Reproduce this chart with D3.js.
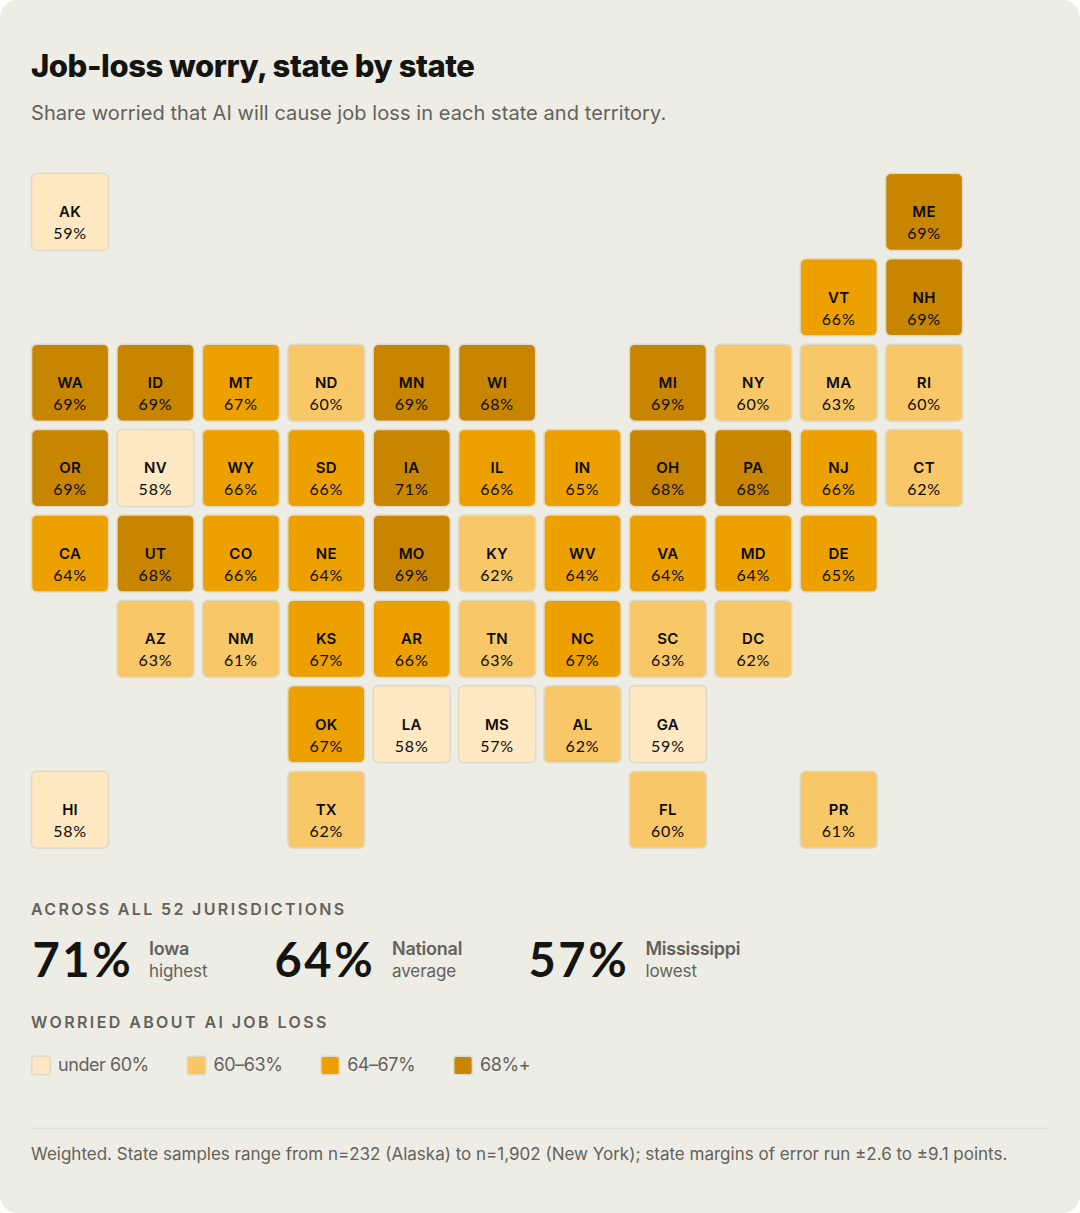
<!DOCTYPE html>
<html><head><meta charset="utf-8">
<script src="https://cdn.jsdelivr.net/npm/d3@7/dist/d3.min.js"></script>
<style>
html,body{margin:0;padding:0;background:#fff;}
svg{display:block;}
text{font-family:Inter,"Noto Sans",sans-serif;}
.num{font-family:Lato,Inter,sans-serif;}
</style></head><body><div id="chart"></div>
<script>
const titleText = "Job-loss worry, state by state";
const subtitleText = "Share worried that AI will cause job loss in each state and territory.";
const tileRows = [
 ["AK","","","","","","","","","","ME"],
 ["","","","","","","","","","VT","NH"],
 ["WA","ID","MT","ND","MN","WI","","MI","NY","MA","RI"],
 ["OR","NV","WY","SD","IA","IL","IN","OH","PA","NJ","CT"],
 ["CA","UT","CO","NE","MO","KY","WV","VA","MD","DE",""],
 ["","AZ","NM","KS","AR","TN","NC","SC","DC","",""],
 ["","","","OK","LA","MS","AL","GA","","",""],
 ["HI","","","TX","","","","FL","","PR",""]
];
const stateCodes = ["AK","ME","VT","NH","WA","ID","MT","ND","MN","WI","MI","NY","MA","RI","OR","NV","WY","SD","IA","IL","IN","OH","PA","NJ","CT","CA","UT","CO","NE","MO","KY","WV","VA","MD","DE","AZ","NM","KS","AR","TN","NC","SC","DC","OK","LA","MS","AL","GA","HI","TX","FL","PR"];
const stateValues = [59,69,66,69,69,69,67,60,69,68,69,60,63,60,69,58,66,66,71,66,65,68,68,66,62,64,68,66,64,69,62,64,64,64,65,63,61,67,66,63,67,63,62,67,58,57,62,59,58,62,60,61];
const binBreaks = [60,64,68];
const binColors = ["#FDE8C1","#F8C768","#EDA100","#C88500"];
const legendLabels = ["under 60%","60–63%","64–67%","68%+"];
const statValues = ["71%","64%","57%"];
const statNames = ["Iowa","National","Mississippi"];
const statNotes = ["highest","average","lowest"];
const statsHeading = "ACROSS ALL 52 JURISDICTIONS";
const legendHeading = "WORRIED ABOUT AI JOB LOSS";
const footnote = "Weighted. State samples range from n=232 (Alaska) to n=1,902 (New York); state margins of error run ±2.6 to ±9.1 points.";

const W=1080,H=1213;
const svg=d3.select("#chart").append("svg").attr("width",W).attr("height",H).attr("viewBox",[0,0,W,H]);
svg.append("rect").attr("width",W).attr("height",H).attr("rx",18).attr("fill","#EEEDE5");

function txt(s,x,y,size,weight,fill,ls,anchor){
  return svg.append("text").attr("x",x).attr("y",y).attr("font-size",size).attr("font-weight",weight)
    .attr("fill",fill).attr("letter-spacing",ls||0).attr("text-anchor",anchor||"start").text(s);
}
const ink="#141412",mute="#62625A",edge="#DEDACA";
txt(titleText,31,77,31,800,ink,-0.45);
txt(subtitleText,31,120,20,400,mute,0.07);

const stepPx=85.4,cellPx=78.6;
const x=d3.scaleBand().domain(d3.range(11)).range([30.8,30.8+10*stepPx+cellPx]).paddingInner(1-cellPx/stepPx).paddingOuter(0);
const y=d3.scaleBand().domain(d3.range(8)).range([172.6,172.6+7*stepPx+cellPx]).paddingInner(1-cellPx/stepPx).paddingOuter(0);
const color=d3.scaleThreshold().domain(binBreaks).range(binColors);
const valueOf=new Map(stateCodes.map((c,i)=>[c,stateValues[i]]));
const cells=tileRows.flatMap((r,ri)=>r.map((c,ci)=>({c,ri,ci}))).filter(d=>d.c);
const g=svg.append("g").selectAll("g").data(cells).join("g")
  .attr("transform",d=>`translate(${x(d.ci)},${y(d.ri)})`);
g.append("rect").attr("x",.75).attr("y",.75).attr("width",x.bandwidth()-1.5).attr("height",y.bandwidth()-1.5).attr("rx",5.5)
 .attr("fill",d=>color(valueOf.get(d.c))).attr("stroke",edge).attr("stroke-width",1.5);
g.append("text").attr("x",x.bandwidth()/2).attr("y",44.6).attr("text-anchor","middle").attr("font-size",15).attr("font-weight",600).attr("fill","#0c0c0a").attr("letter-spacing",.3).text(d=>d.c);
g.append("text").attr("class","num").attr("x",x.bandwidth()/2).attr("y",66.6).attr("text-anchor","middle").attr("font-size",16).attr("font-weight",400).attr("fill","#0c0c0a").attr("letter-spacing",.8).text(d=>valueOf.get(d.c)+"%");

txt(statsHeading,31,915,16,600,mute,2.35);
const statX=d3.scaleOrdinal().domain(statNames).range([32.5,274.5,528.5]);
const noteX=d3.scaleOrdinal().domain(statNames).range([149,392,645.5]);
statNames.forEach((n,i)=>{
  txt(statValues[i],statX(n),976.5,47,700,ink,2.6).attr("class","num");
  txt(n,noteX(n),955,18,600,mute,-0.25);
  txt(statNotes[i],noteX(n),977,17,400,mute,-0.1);
});
txt(legendHeading,31,1028,16,600,mute,2.4);
let legendCursor=31;
legendLabels.forEach((l,i)=>{
  svg.append("rect").attr("x",legendCursor+.75).attr("y",1056.25).attr("width",18.5).attr("height",18.5).attr("rx",2.5).attr("fill",binColors[i]).attr("stroke",edge).attr("stroke-width",1.5);
  const t=txt(l,legendCursor+27,1071,18,400,mute,-0.45);
  legendCursor+=27+t.node().getComputedTextLength()+37.8;
});
svg.append("line").attr("x1",31).attr("x2",1049).attr("y1",1128.5).attr("y2",1128.5).attr("stroke","#DEDDD3").attr("stroke-width",1.5);
txt(footnote,31,1160,17,400,mute,0);
</script></body></html>
